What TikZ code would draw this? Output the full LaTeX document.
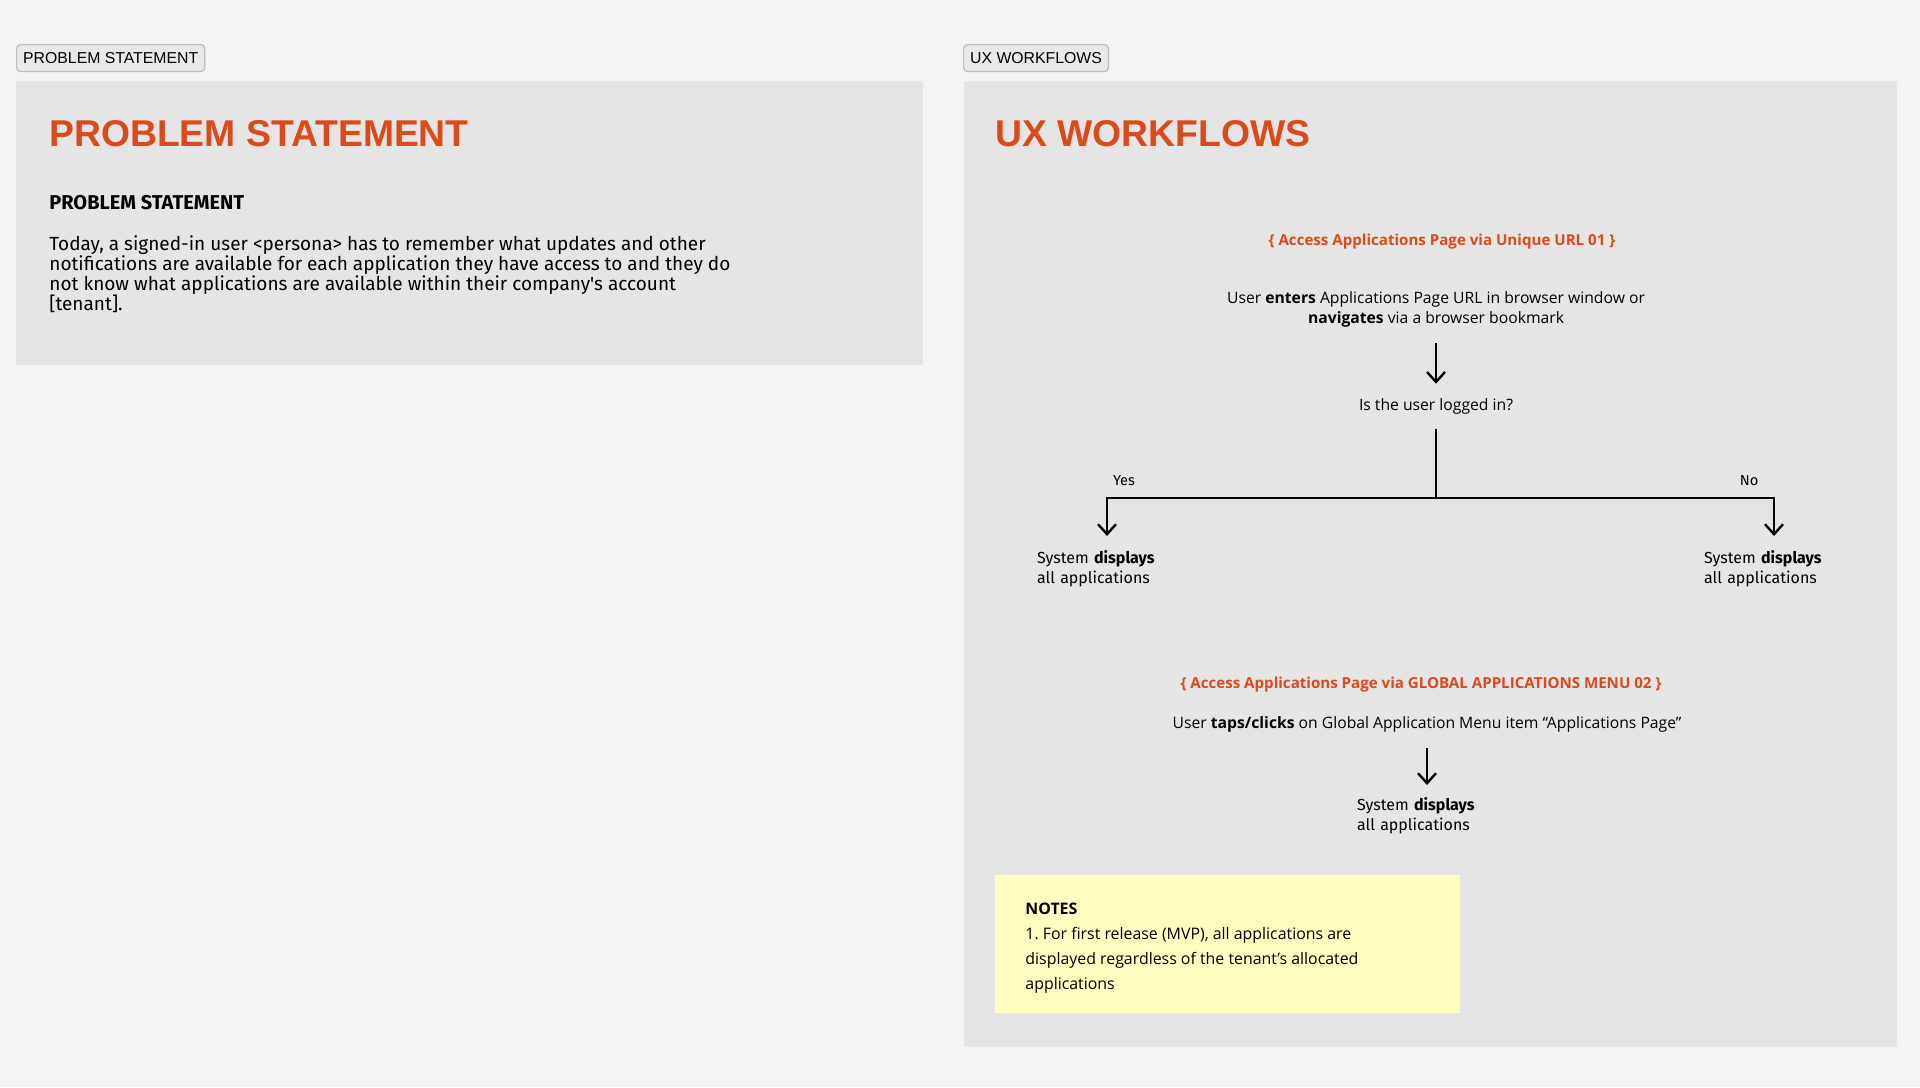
\documentclass[tikz,border=0pt]{standalone}
\usepackage{fontspec}
\setmainfont{Open Sans}
\newfontfamily\plexfont{Fira Sans}
\newfontfamily\headfont{Liberation Sans}
\usetikzlibrary{arrows.meta,positioning,calc}
\frenchspacing

\definecolor{pagebg}{HTML}{F4F4F4}
\definecolor{panelbg}{HTML}{E5E5E5}
\definecolor{tabbg}{HTML}{E9E9E9}
\definecolor{tabline}{HTML}{BDBDBD}
\definecolor{accent}{HTML}{DA4A1B}
\definecolor{notebg}{HTML}{FFFEC0}

\begin{document}
\begin{tikzpicture}[
    x=0.5pt, y=-0.5pt,
    tabbox/.style={rectangle, draw=tabline, fill=tabbg, line width=0.6pt, rounded corners=2pt, anchor=north west, inner xsep=3.3pt, minimum height=13.5pt, font=\headfont\fontsize{7.9}{10}\selectfont},
    bigtitle/.style={inner sep=0pt, anchor=base west, text=accent, font=\headfont\bfseries\fontsize{18.65}{22}\selectfont},
    flowtitle/.style={inner sep=0pt, text=accent, font=\bfseries\fontsize{7.55}{10}\selectfont},
    flowtext/.style={inner sep=0pt, align=center, font=\fontsize{7.85}{10}\selectfont},
    resulttext/.style={inner sep=0pt, anchor=north, text width=70pt, align=left, font=\plexfont\fontsize{8}{10}\selectfont},
    branchlabel/.style={inner sep=0pt, font=\plexfont\fontsize{7.3}{10}\selectfont},
    notesbox/.style={rectangle, fill=notebg, anchor=north west, minimum width=232.5pt, minimum height=69pt},
    notestext/.style={inner sep=0pt, anchor=north west, align=left, font=\fontsize{7.95}{12.5}\selectfont},
    flowline/.style={line width=1.2pt},
    flowarrow/.style={-{Straight Barb[length=5pt,width=9pt]}, line width=1.2pt}
]

% Page and panels
\fill[pagebg] (0,0) rectangle (1920,1087);
\fill[panelbg] (16,81) rectangle (923,365);
\fill[panelbg] (964,81) rectangle (1897,1047);

% Tabs
\node[tabbox] (tab-problem) at (16,44) {PROBLEM STATEMENT};
\node[tabbox] (tab-ux) at (963,44) {UX WORKFLOWS};

% Problem statement panel
\node[bigtitle] (ps-title) at (49,146) {PROBLEM STATEMENT};
\node[inner sep=0pt, anchor=base west, font=\plexfont\bfseries\fontsize{10}{12}\selectfont] (ps-sub) at (49,209) {PROBLEM STATEMENT};
\node[inner sep=0pt, anchor=north west, align=left, font=\plexfont\fontsize{9.5}{10}\selectfont] (ps-body) at (49,235) {Today, a signed-in user <persona> has to remember what updates and other\\notifications are available for each application they have access to and they do\\not know what applications are available within their company's account\\{}[tenant].};

% UX workflows panel
\node[bigtitle] (ux-title) at (995,146) {UX WORKFLOWS};

% Workflow 01
\node[flowtitle] (wf1-title) at (1442,242) {\{ Access Applications Page via Unique URL 01 \}};
\node[flowtext] (wf1-enter) at (1436,309) {User \textbf{enters} Applications Page URL in browser window or\\\textbf{navigates} via a browser bookmark};
\node[flowtext] (wf1-login) at (1436,406) {Is the user logged in?};
\coordinate (wf1-split) at (1436,498);
\node[branchlabel] (wf1-yes) at (1124,481) {Yes};
\node[branchlabel] (wf1-no) at (1749,481) {No};
\node[resulttext] (wf1-sys-yes) at (1107,550) {System \textbf{displays}\\all applications};
\node[resulttext] (wf1-sys-no) at (1774,550) {System \textbf{displays}\\all applications};

\draw[flowarrow, shorten <=8pt, shorten >=7pt] (wf1-enter) -- (wf1-login);
\draw[flowline, shorten <=7.5pt] (wf1-login) -- (wf1-split);
\draw[flowarrow, shorten >=7pt] (wf1-split) -| (wf1-sys-yes);
\draw[flowarrow, shorten >=7pt] (wf1-split) -| (wf1-sys-no);

% Workflow 02
\node[flowtitle] (wf2-title) at (1421,685) {\{ Access Applications Page via GLOBAL APPLICATIONS MENU 02 \}};
\node[flowtext] (wf2-tap) at (1427,724) {User \textbf{taps/clicks} on Global Application Menu item “Applications Page”};
\node[resulttext] (wf2-sys) at (1427,797) {System \textbf{displays}\\all applications};

\draw[flowarrow, shorten <=8pt, shorten >=6pt] (wf2-tap) -- (wf2-sys);

% Notes
\node[notesbox] (notes-box) at (995,875) {};
\node[notestext] (notes) at (1025,903) {\textbf{NOTES}\\1. For first release (MVP), all applications are\\displayed regardless of the tenant’s allocated\\applications};

\end{tikzpicture}
\end{document}
